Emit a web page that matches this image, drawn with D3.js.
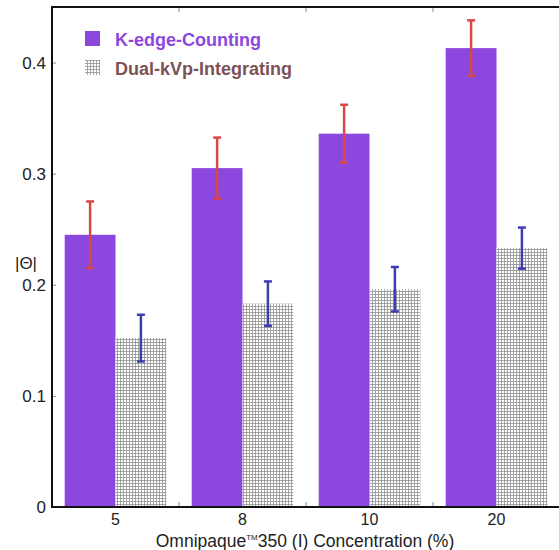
<!DOCTYPE html>
<html>
<head>
<meta charset="utf-8">
<script src="https://cdn.jsdelivr.net/npm/d3@7"></script>
<style>
  body { margin: 0; background: #fff; }
  svg { display: block; font-family: Arial, "Liberation Sans", sans-serif; }
</style>
</head>
<body>
<svg id="chart" width="559" height="550"></svg>
<script>
const concentrations = ["5", "8", "10", "20"];
const kedgeValues = [0.245, 0.305, 0.336, 0.413];
const kedgeErrors = [0.030, 0.0275, 0.026, 0.025];
const dualValues = [0.152, 0.183, 0.196, 0.233];
const dualErrors = [0.021, 0.020, 0.020, 0.0185];
const yTicks = [0, 0.1, 0.2, 0.3, 0.4];
const seriesNames = ["K-edge-Counting", "Dual-kVp-Integrating"];

const purple = "#8b47de";
const svg = d3.select("#chart");

const margin = { left: 52, top: 7, right: 560, bottom: 507 };

const x = d3.scaleBand()
    .domain(concentrations)
    .range([margin.left, margin.right])
    .paddingInner(0.2)
    .paddingOuter(0.1);

const xSub = d3.scaleBand()
    .domain(seriesNames)
    .range([0, x.bandwidth()]);

const y = d3.scaleLinear()
    .domain([0, 0.45])
    .range([margin.bottom, margin.top]);

// grid pattern for the integrating bars
const defs = svg.append("defs");
const pat = defs.append("pattern")
    .attr("id", "grid")
    .attr("patternUnits", "userSpaceOnUse")
    .attr("width", 3)
    .attr("height", 3);
pat.append("rect").attr("width", 3).attr("height", 3).attr("fill", "#fff");
pat.append("path")
    .attr("d", "M0,0.5H3M0.5,0V3")
    .attr("stroke", "#909090")
    .attr("stroke-width", 0.8);

const rows = concentrations.map((c, i) => ({
    c: c,
    k: kedgeValues[i], ke: kedgeErrors[i],
    d: dualValues[i], de: dualErrors[i]
}));

// bars
svg.append("g").selectAll("rect")
    .data(rows)
    .enter()
    .append("rect")
    .attr("x", d => x(d.c) + xSub(seriesNames[0]))
    .attr("y", d => y(d.k))
    .attr("width", xSub.bandwidth())
    .attr("height", d => y(0) - y(d.k))
    .attr("fill", purple);

svg.append("g").selectAll("rect")
    .data(rows)
    .enter()
    .append("rect")
    .attr("x", d => x(d.c) + xSub(seriesNames[1]))
    .attr("y", d => y(d.d))
    .attr("width", xSub.bandwidth())
    .attr("height", d => y(0) - y(d.d))
    .attr("fill", "url(#grid)");

// error bars
function errorBars(key, errKey, series, color) {
    const g = svg.append("g")
        .attr("stroke", color)
        .attr("stroke-width", 2.5)
        .attr("fill", "none");
    const cx = d => x(d.c) + xSub(series) + xSub.bandwidth() / 2;
    g.selectAll("line.v").data(rows).enter().append("line")
        .attr("x1", cx).attr("x2", cx)
        .attr("y1", d => y(d[key] + d[errKey]))
        .attr("y2", d => y(d[key] - d[errKey]));
    g.selectAll("line.t").data(rows).enter().append("line")
        .attr("x1", d => cx(d) - 4).attr("x2", d => cx(d) + 4)
        .attr("y1", d => y(d[key] + d[errKey]))
        .attr("y2", d => y(d[key] + d[errKey]));
    g.selectAll("line.b").data(rows).enter().append("line")
        .attr("x1", d => cx(d) - 4).attr("x2", d => cx(d) + 4)
        .attr("y1", d => y(d[key] - d[errKey]))
        .attr("y2", d => y(d[key] - d[errKey]));
}
errorBars("k", "ke", seriesNames[0], "#d94848");
errorBars("d", "de", seriesNames[1], "#3d3daf");

// y axis
const yAxis = svg.append("g")
    .attr("transform", `translate(${margin.left},0)`)
    .call(d3.axisLeft(y).tickValues(yTicks).tickSize(-4).tickPadding(6)
        .tickFormat(d => d === 0 ? "0" : d3.format(".1f")(d)));
yAxis.select(".domain").remove();
yAxis.selectAll(".tick line").attr("stroke", "#888");
yAxis.selectAll("text").attr("font-size", 17).attr("fill", "#222").attr("font-family", "Arial, sans-serif");

// x axis labels
const xAxis = svg.append("g")
    .attr("transform", `translate(0,${margin.bottom})`)
    .call(d3.axisBottom(x).tickSize(0).tickPadding(7));
xAxis.select(".domain").remove();
xAxis.selectAll("text").attr("font-size", 16).attr("fill", "#222").attr("font-family", "Arial, sans-serif");

// group boundary ticks (top and bottom)
const bounds = concentrations.slice(1).map(c => x(c) - x.step() * x.paddingInner() / 2);
svg.append("g").selectAll("line").data(bounds).enter().append("line")
    .attr("x1", d => d).attr("x2", d => d)
    .attr("y1", margin.bottom).attr("y2", margin.bottom - 5)
    .attr("stroke", "#888");
svg.append("g").selectAll("line").data(bounds).enter().append("line")
    .attr("x1", d => d).attr("x2", d => d)
    .attr("y1", margin.top).attr("y2", margin.top + 5)
    .attr("stroke", "#888");

// box frame
svg.append("path")
    .attr("d", `M${margin.right},${margin.top}H${margin.left}V${margin.bottom}H${margin.right}`)
    .attr("fill", "none")
    .attr("stroke", "#111")
    .attr("stroke-width", 2);

// axis titles
svg.append("text")
    .attr("x", 26).attr("y", 269)
    .attr("text-anchor", "middle")
    .attr("font-size", 17).attr("fill", "#222")
    .text("|Θ|");

const xt = svg.append("text")
    .attr("x", 305).attr("y", 547)
    .attr("text-anchor", "middle")
    .attr("font-size", 17.5).attr("fill", "#222");
xt.append("tspan").text("Omnipaque");
xt.append("tspan").attr("font-size", 8).attr("dy", -7).text("TM");
xt.append("tspan").attr("dy", 7).text("350 (I) Concentration (%)");

// legend
const legend = svg.append("g");
legend.append("rect")
    .attr("x", 85).attr("y", 31).attr("width", 15).attr("height", 15)
    .attr("fill", purple);
legend.append("rect")
    .attr("x", 85).attr("y", 60).attr("width", 15).attr("height", 15)
    .attr("fill", "url(#grid)");
legend.append("text")
    .attr("x", 115).attr("y", 46)
    .attr("font-size", 18).attr("font-weight", "bold")
    .attr("fill", purple)
    .text(seriesNames[0]);
legend.append("text")
    .attr("x", 115).attr("y", 75)
    .attr("font-size", 18).attr("font-weight", "bold")
    .attr("fill", "#7d5255")
    .text(seriesNames[1]);
</script>
</body>
</html>
